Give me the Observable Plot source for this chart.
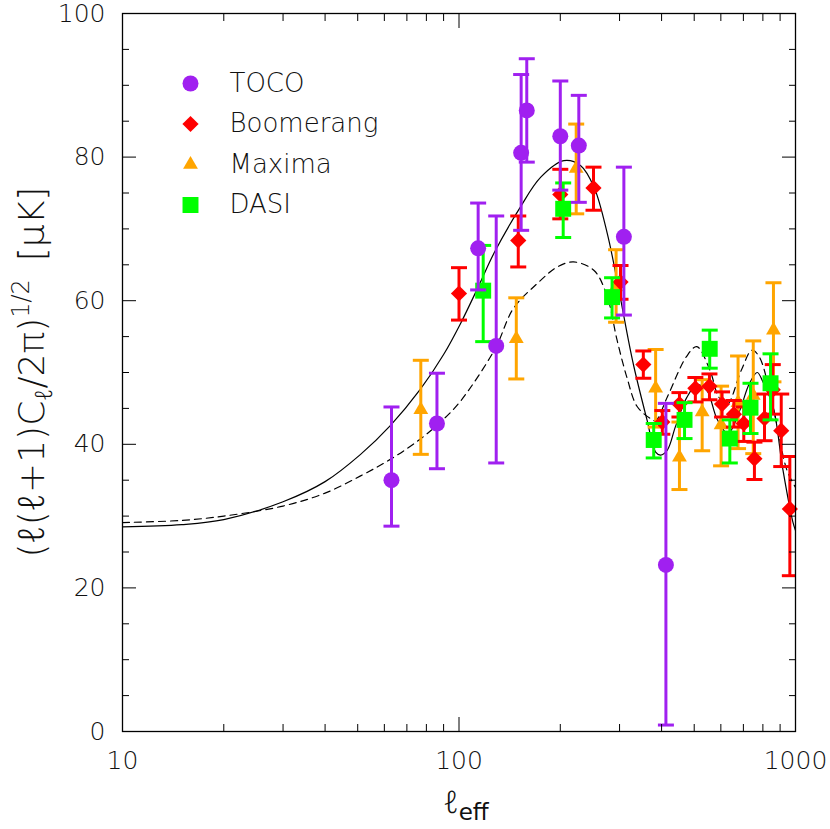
<!DOCTYPE html>
<html><head><meta charset="utf-8">
<script src="https://cdn.jsdelivr.net/npm/d3@7"></script>
<script src="https://cdn.jsdelivr.net/npm/@observablehq/plot@0.6"></script>
<style>html,body{margin:0;padding:0;background:#fff}#chart svg{display:block}</style>
</head><body><div id="chart"></div>
<script>
// ---- data ----
const seriesNames = ["TOCO", "Boomerang", "Maxima", "DASI"];

const tocoL  = [63, 86, 114, 129, 153, 159, 200, 227, 309, 412];
const tocoV  = [35.0, 42.9, 67.3, 53.7, 80.6, 86.5, 82.9, 81.6, 68.9, 23.2];
const tocoLo = [28.6, 36.6, 61.5, 37.4, 69.8, 79.3, 75.4, 73.7, 58.0, 0.9];
const tocoHi = [45.2, 49.9, 73.6, 71.8, 91.5, 93.7, 90.6, 88.6, 78.6, 45.7];

const boomL  = [100, 150, 200, 251, 302, 353, 402, 452, 504, 555, 605, 656, 702, 755, 809, 856, 907, 962];
const boomV  = [61.0, 68.4, 74.8, 75.7, 62.6, 51.1, 43.1, 45.6, 47.8, 48.1, 45.6, 44.2, 42.9, 38.0, 43.6, 47.6, 41.9, 31.0];
const boomLo = [57.3, 64.7, 71.4, 72.6, 60.2, 49.2, 41.4, 43.8, 45.9, 46.2, 43.8, 42.4, 40.4, 35.1, 40.5, 44.2, 36.9, 21.7];
const boomHi = [64.6, 71.8, 78.3, 78.6, 64.9, 53.0, 44.7, 47.2, 49.3, 49.8, 47.3, 46.1, 45.2, 40.3, 47.0, 51.1, 47.0, 38.3];

const maxL  = [77, 148, 223, 293, 384, 452, 528, 601, 675, 749, 860];
const maxV  = [44.8, 54.7, 78.4, 61.9, 47.8, 38.2, 44.5, 42.7, 45.8, 46.8, 55.9];
const maxLo = [38.6, 49.1, 72.1, 57.0, 42.4, 33.7, 39.1, 37.0, 39.4, 38.7, 48.7];
const maxHi = [51.7, 60.4, 84.6, 67.1, 53.2, 43.1, 49.0, 48.1, 52.3, 54.4, 62.5];

const dasiL  = [118, 204, 285, 379, 468, 556, 638, 735, 843];
const dasiV  = [61.4, 72.8, 60.5, 40.6, 43.4, 53.3, 40.8, 45.1, 48.5];
const dasiLo = [54.3, 68.8, 57.6, 38.1, 40.8, 50.6, 37.4, 41.5, 43.4];
const dasiHi = [67.7, 76.4, 63.2, 42.9, 45.8, 55.9, 43.4, 48.5, 52.6];

// theory curves
const solidL = [10, 15, 20, 30, 40, 51, 62.5, 76.6, 90, 101, 114, 127, 152, 175, 205, 230, 252, 276, 295, 316, 331, 362, 384, 397, 416, 440, 475, 510, 545, 585, 630, 680, 730, 770, 800, 860, 915, 982, 1000];
const solidV = [28.5, 28.8, 29.5, 32.0, 34.8, 38.6, 42.6, 47.6, 52.5, 56.8, 61.9, 66.6, 73.0, 77.2, 79.5, 78.8, 75.8, 69.3, 62.8, 55.4, 50.8, 43.4, 38.9, 38.5, 39.2, 42.5, 46.5, 48.3, 47.5, 43.5, 41.5, 44.5, 48.5, 50.0, 48.7, 45.0, 36.8, 29.2, 28.0];
const dashL = [10, 15, 20, 30, 40, 51, 62.5, 76.6, 90, 101, 128, 145, 170, 196, 219, 252, 276, 295, 316, 338, 370, 384, 416, 474, 509, 557, 591, 625, 690, 742, 780, 862, 943, 1000];
const dashV = [29.1, 29.4, 30.0, 31.4, 33.2, 35.6, 37.9, 40.7, 43.5, 46.0, 53.3, 58.9, 62.3, 64.7, 65.4, 64.2, 60.5, 54.5, 49.2, 45.3, 43.6, 43.3, 46.6, 52.2, 53.6, 50.3, 46.6, 45.5, 50.3, 53.1, 52.2, 44.7, 36.4, 34.0];

// ticks
const yMajor = [0, 20, 40, 60, 80, 100];
const yMinor = [5, 10, 15, 25, 30, 35, 45, 50, 55, 65, 70, 75, 85, 90, 95];
const xMajor = [10, 100, 1000];
const xMinor = [20, 30, 40, 50, 60, 70, 80, 90, 200, 300, 400, 500, 600, 700, 800, 900];

// ---- build ----
const zip = (L, V, Lo, Hi) => L.map((l, i) => ({l, v: V[i], lo: Lo[i], hi: Hi[i]}));
const series = {
  TOCO:      {color: "#a020f0", symbol: "circle",   r: 8,   rows: zip(tocoL, tocoV, tocoLo, tocoHi)},
  Boomerang: {color: "#ff0000", symbol: "diamond2", r: 7.3, rows: zip(boomL, boomV, boomLo, boomHi)},
  Maxima:    {color: "#ffa500", symbol: "triangle", r: 5.5, rows: zip(maxL, maxV, maxLo, maxHi)},
  DASI:      {color: "#00ff00", symbol: "square",   r: 9,   rows: zip(dasiL, dasiV, dasiLo, dasiHi)}
};
const solid = solidL.map((l, i) => ({l, v: solidV[i]}));
const dashed = dashL.map((l, i) => ({l, v: dashV[i]}));

const cap = {draw(ctx) { ctx.moveTo(-8, 0); ctx.lineTo(8, 0); }};
const FONT = "DejaVu Sans";

function seriesMarks(name) {
  const s = series[name];
  return [
    Plot.ruleX(s.rows, {x: "l", y1: "lo", y2: "hi", stroke: s.color, strokeWidth: 3, clip: true}),
    Plot.dot(s.rows, {x: "l", y: "lo", symbol: cap, stroke: s.color, strokeWidth: 3, fill: "none", clip: true}),
    Plot.dot(s.rows, {x: "l", y: "hi", symbol: cap, stroke: s.color, strokeWidth: 3, fill: "none", clip: true}),
    Plot.dot(s.rows, {x: "l", y: "v", symbol: s.symbol, r: s.r, fill: s.color, stroke: "none"})
  ];
}

const legendMarks = seriesNames.flatMap((name, i) => {
  const s = series[name];
  return [
    Plot.dot([name], {frameAnchor: "top-left", dx: 68, dy: 70 + 40.5 * i, symbol: s.symbol, r: s.r, fill: s.color, stroke: "none"}),
    Plot.text([name], {frameAnchor: "top-left", dx: 107, dy: 70 + 40.5 * i, text: d => d, textAnchor: "start", lineAnchor: "middle", fontSize: 26, fontWeight: 200, fill: "#111"})
  ];
});

const tickStyle = {label: null, fill: "none", stroke: "black", strokeWidth: 1};
const chart = Plot.plot({
  width: 830, height: 829,
  marginLeft: 122, marginRight: 35, marginTop: 13, marginBottom: 98,
  style: {fontFamily: FONT, background: "#fff", color: "black"},
  x: {type: "log", domain: [10, 1000]},
  y: {domain: [0, 100]},
  marks: [
    Plot.line(dashed, {x: "l", y: "v", stroke: "black", strokeWidth: 1.2, strokeDasharray: "7,5", curve: "catmull-rom", clip: true}),
    Plot.line(solid, {x: "l", y: "v", stroke: "black", strokeWidth: 1.2, curve: "catmull-rom", clip: true}),
    ...seriesMarks("Maxima"),
    ...seriesMarks("Boomerang"),
    ...seriesMarks("DASI"),
    ...seriesMarks("TOCO"),
    ...legendMarks,
    Plot.axisY({ticks: yMajor, anchor: "left", tickSize: -14, ...tickStyle}),
    Plot.axisY({ticks: yMinor, anchor: "left", tickSize: -7, ...tickStyle}),
    Plot.axisY({ticks: yMajor, anchor: "right", tickSize: -14, ...tickStyle}),
    Plot.axisY({ticks: yMinor, anchor: "right", tickSize: -7, ...tickStyle}),
    Plot.axisX({ticks: xMajor, anchor: "bottom", tickSize: -14, ...tickStyle}),
    Plot.axisX({ticks: xMinor, anchor: "bottom", tickSize: -7, ...tickStyle}),
    Plot.axisX({ticks: xMajor, anchor: "top", tickSize: -14, ...tickStyle}),
    Plot.axisX({ticks: xMinor, anchor: "top", tickSize: -7, ...tickStyle}),
    Plot.axisY({ticks: yMajor, anchor: "left", tickSize: 0, tickPadding: 17, label: null, fontSize: 25, fontWeight: 200, tickFormat: d => String(d), fill: "#111"}),
    Plot.axisX({ticks: xMajor, anchor: "bottom", tickSize: 0, tickPadding: 20, label: null, fontSize: 25, fontWeight: 200, tickFormat: d => String(d), fill: "#111"}),
    Plot.frame({stroke: "black", strokeWidth: 1.3})
  ]
});
document.getElementById("chart").appendChild(chart);

// axis titles with sub/superscripts
const svg = d3.select(chart);
const ELL_FONT = "'Noto Sans', 'DejaVu Sans'";
const yl = svg.append("text")
  .attr("transform", "translate(44,372) rotate(-90)")
  .attr("text-anchor", "middle")
  .attr("font-family", FONT).attr("font-weight", 200).attr("font-size", 36).attr("fill", "#111");
yl.append("tspan").text("(");
yl.append("tspan").attr("font-family", ELL_FONT).attr("font-weight", 300).attr("font-style", "italic").text("ℓ");
yl.append("tspan").text("(");
yl.append("tspan").attr("font-family", ELL_FONT).attr("font-weight", 300).attr("font-style", "italic").text("ℓ");
yl.append("tspan").text("+1)C");
yl.append("tspan").attr("font-family", ELL_FONT).attr("font-weight", 300).attr("font-style", "italic").attr("font-size", 24).attr("dy", 8).text("ℓ");
yl.append("tspan").attr("dy", -8).text("/2π)");
yl.append("tspan").attr("font-size", 24).attr("dy", -15).text("1/2");
yl.append("tspan").attr("dy", 15).text("\u2002[μK]");

const xl = svg.append("text")
  .attr("x", 443).attr("y", 813)
  .attr("text-anchor", "start")
  .attr("font-family", FONT).attr("fill", "#111");
xl.append("tspan").attr("font-family", ELL_FONT).attr("font-size", 31).attr("font-weight", 300).attr("font-style", "italic").text("ℓ");
xl.append("tspan").attr("font-size", 23).attr("font-weight", 400).attr("dy", 7).text("eff");
</script>
</body></html>
